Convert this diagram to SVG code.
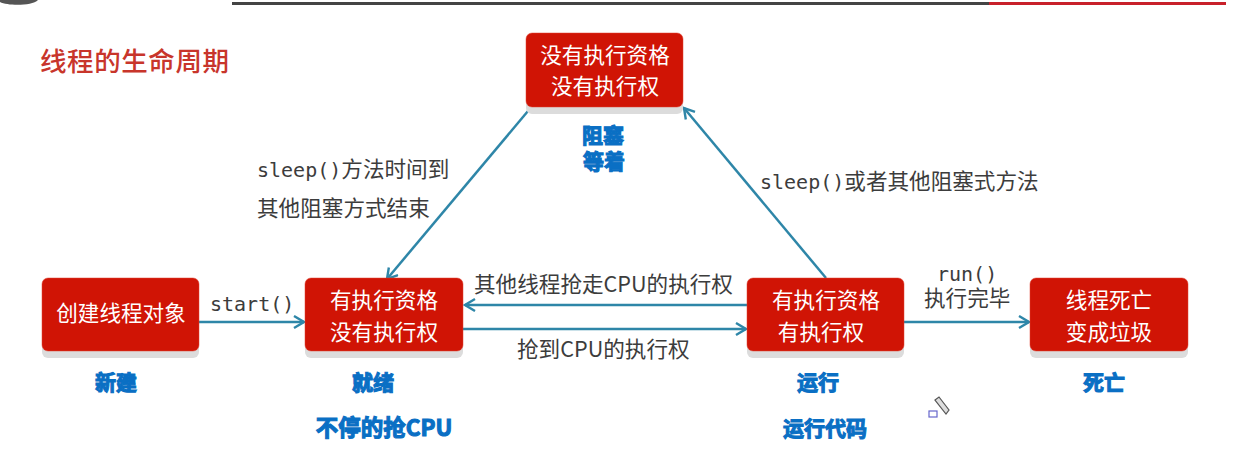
<svg xmlns="http://www.w3.org/2000/svg" width="1242" height="458" viewBox="0 0 1242 458">
<style>
text{font-family:"Noto Sans CJK SC","Noto Sans",sans-serif}
.box{fill:#d01405;stroke:#e04030;stroke-width:.5}
.sh{fill:#dcdcdc}
.w{fill:#fff;font-size:21.6px;text-anchor:middle}
.b{fill:#0a6fc4;stroke:#0a6fc4;stroke-width:1.1;font-size:21px;font-weight:700;text-anchor:middle}
.l{fill:#3c3c3c;font-size:21.6px}
.m{font-family:"DejaVu Sans Mono","Noto Sans CJK SC",monospace;font-size:20px}
.c{stroke:#2e86a8;stroke-width:2.5;fill:none;marker-end:url(#a)}
</style>
<defs><marker id="a" markerUnits="userSpaceOnUse" markerWidth="14" markerHeight="16" refX="12" refY="7" orient="auto"><path d="M2 1L12 7L2 13" fill="none" stroke="#2e86a8" stroke-width="2.4"/></marker></defs>
<rect width="1242" height="458" fill="#fff"/>
<path d="M-1 0H38C32 6 8 6 0 2Z" fill="#555"/>
<rect x="232" y="2" width="757" height="3" fill="#444"/>
<rect x="989" y="2" width="237" height="3" fill="#c8202a"/>
<text x="40" y="71" font-size="26.5" font-weight="500" fill="#c8352b" textLength="189">线程的生命周期</text>
<g id="connectors">
<path class="c" d="M528 111L387 279"/>
<path class="c" d="M826 278L684 108"/>
<path class="c" d="M199 322H304"/>
<path class="c" d="M747 305H465"/>
<path class="c" d="M463 329H746"/>
<path class="c" d="M904 322H1029"/>
</g>
<g id="labels">
<text class="l" x="257" y="177"><tspan class="m">sleep()</tspan>方法时间到</text>
<text class="l" x="257" y="216">其他阻塞方式结束</text>
<text class="l" x="760" y="189"><tspan class="m">sleep()</tspan>或者其他阻塞式方法</text>
<text class="l m" x="210" y="311">start()</text>
<text class="l" x="474" y="292">其他线程抢走CPU的执行权</text>
<text class="l" x="517" y="357">抢到CPU的执行权</text>
<text class="l m" x="937" y="281">run()</text>
<text class="l" x="924" y="306">执行完毕</text>
</g>
<g id="n-blocked"><rect class="sh" x="526" y="36" width="157" height="78" rx="6"/><rect class="box" x="526" y="33" width="157" height="74" rx="6"/>
<text class="w" x="605" y="63">没有执行资格</text><text class="w" x="605" y="94">没有执行权</text>
<text class="b" x="603" y="143">阻塞</text><text class="b" x="604" y="169">等着</text></g>
<g id="n-new"><rect class="sh" x="42" y="282" width="157" height="76" rx="6"/><rect class="box" x="42" y="278" width="157" height="73" rx="6"/>
<text class="w" x="121" y="321">创建线程对象</text><text class="b" x="116" y="390">新建</text></g>
<g id="n-ready"><rect class="sh" x="305" y="282" width="158" height="76" rx="6"/><rect class="box" x="305" y="278" width="158" height="73" rx="6"/>
<text class="w" x="384" y="308">有执行资格</text><text class="w" x="384" y="340">没有执行权</text>
<text class="b" x="373" y="390">就绪</text><text class="b" x="384" y="436" style="font-size:22.5px">不停的抢CPU</text></g>
<g id="n-running"><rect class="sh" x="747" y="282" width="157" height="76" rx="6"/><rect class="box" x="747" y="278" width="157" height="73" rx="6"/>
<text class="w" x="826" y="308">有执行资格</text><text class="w" x="821" y="340">有执行权</text>
<text class="b" x="818" y="390">运行</text><text class="b" x="825" y="436">运行代码</text></g>
<g id="n-dead"><rect class="sh" x="1030" y="282" width="158" height="76" rx="6"/><rect class="box" x="1030" y="278" width="158" height="73" rx="6"/>
<text class="w" x="1109" y="308">线程死亡</text><text class="w" x="1109" y="340">变成垃圾</text>
<text class="b" x="1104" y="390">死亡</text></g>
<g id="cursor"><rect x="929" y="411" width="8" height="6" fill="#fff" stroke="#6666cc" stroke-width="1.2"/>
<path d="M935 400L939 397L949 410L946 414Z" fill="#ddd" stroke="#555" stroke-width="1.2"/></g>
</svg>
